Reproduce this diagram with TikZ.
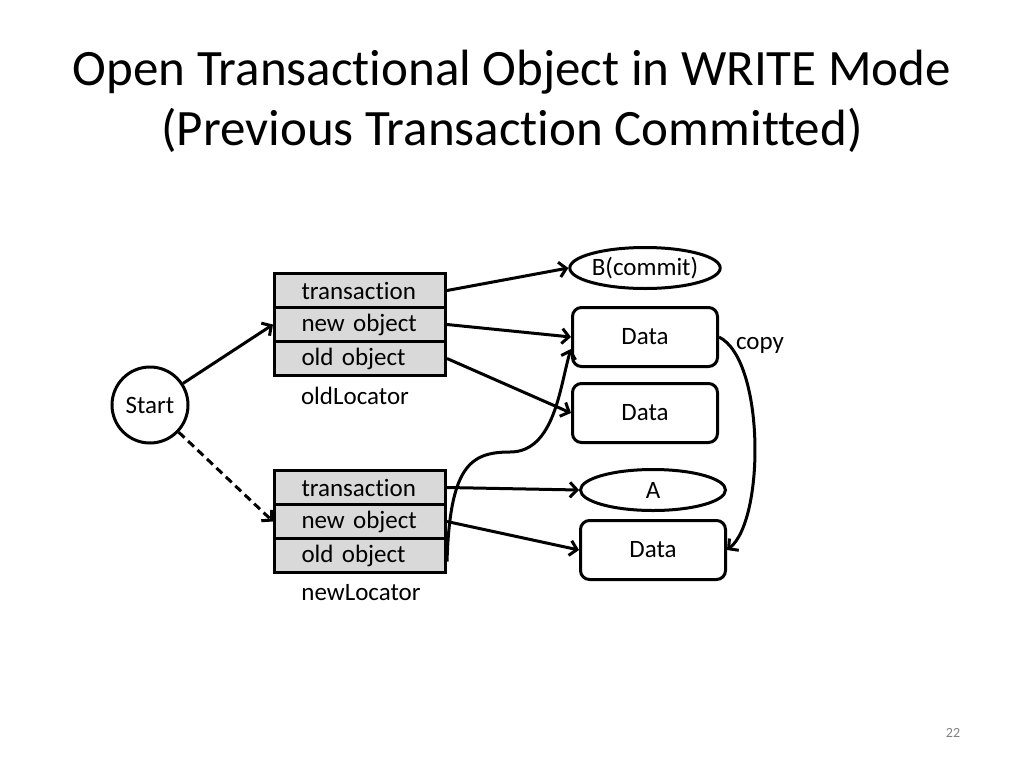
\documentclass[tikz,border=0pt]{standalone}
\usepackage{fontspec}
\setmainfont[Ligatures=CommonOff]{Carlito}
\usetikzlibrary{arrows.meta,shapes.geometric}
\begin{document}
\begin{tikzpicture}[
   x=1pt, y=-1pt,
   line width=3pt,
   >={Straight Barb[length=7pt,width=15pt]},
   every node/.style={font=\fontsize{25}{29}\selectfont},
   row/.style={draw, fill=black!15, text width=117pt, align=left, inner xsep=27pt,
               minimum height=34pt, inner ysep=0pt, anchor=north west},
   datum/.style={draw, rounded corners=9pt, minimum width=145pt, minimum height=59pt},
   tag/.style={draw, ellipse, inner sep=0pt, minimum width=145pt, minimum height=41pt}]

\useasboundingbox (0,0) rectangle (1024,768);

\node[align=center, font=\fontsize{51}{60}\selectfont] (title) at (512,101)
   {Open Transactional Object in WRITE Mode\\(Previous Transaction Committed)};

\node[draw, circle, minimum size=76pt, inner sep=0pt] (start) at (150,405) {Start};

% oldLocator
\node[row] (oldtx) at (273,272) {transaction};
\node[row] (oldnew) at (273,306) {new object};
\node[row] (oldold) at (273,340) {old object};
\node (oldloc) at (355,396) {oldLocator};

% newLocator
\node[row] (newtx) at (273,469) {transaction};
\node[row] (newnew) at (273,503) {new object};
\node[row] (newold) at (273,537) {old object};
\node (newloc) at (361,593) {newLocator};

\node[tag] (commit) at (645,268) {B(commit)};
\node[datum] (data1) at (645,337) {Data};
\node[datum] (data2) at (645,413) {Data};
\node[tag] (tagA) at (653,490) {A};
\node[datum] (data3) at (653,550) {Data};
\node (copy) at (760,345) {copy};

\draw[->] (start) -- (oldnew.west);
\draw[->, dashed, dash pattern=on 8pt off 5pt] (start) -- (newnew.west);

\draw[->] (oldtx.east) -- (commit.west);
\draw[->] (oldnew.east) -- (data1.west);
\draw[->] (oldold.east) -- (data2.west);
\draw[->] (newtx.east) -- (tagA.west);
\draw[->] (newnew.east) -- (data3.west);
\draw[->] ([yshift=-6pt]newold.east) .. controls +(3,-95) and (470,452) .. (510,452)
   .. controls (555,452) and (560,385) .. ([yshift=-12pt]data1.west);
\draw[->] (data1.east) .. controls (765,360) and (765,520) .. (data3.east);

\node[text=black!50, font=\fontsize{14}{16}\selectfont] (page) at (953,733) {22};
\end{tikzpicture}
\end{document}
